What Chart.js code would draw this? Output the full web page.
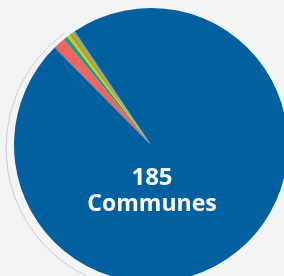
<!DOCTYPE html>
<html>
<head>
<meta charset="utf-8">
<script src="https://cdn.jsdelivr.net/npm/chart.js@4.4.1/dist/chart.umd.min.js"></script>
<style>
  html, body { margin: 0; padding: 0; background: #f4f4f4; overflow: hidden; width: 284px; height: 276px; }
  #wrap { position: absolute; left: 0; top: 0; width: 302px; height: 290px; }
</style>
</head>
<body>
<div id="wrap"><canvas id="communes-chart" width="302" height="290"></canvas></div>
<script>
// Communes pie chart

let categories = ['Groupe 1', 'Groupe 2', 'Groupe 3', 'Groupe 4', 'Groupe 5', 'Groupe 6'];
let communesData = [2.7, 0.9, 0.6, 0.8, 0.6, 179.5];
let sliceColors = ['#f0665e', '#14a37f', '#f5b335', '#8cb413', '#9a9a9a', '#025fa0'];
let centerLines = ['185', 'Communes'];

// faint ring on the left of the pie + centre text
const decorPlugin = {
    id: 'decor',
    beforeDatasetsDraw(chart) {
        let arc = chart.getDatasetMeta(0).data[0];
        let ctx = chart.ctx;
        ctx.save();
        ctx.beginPath();
        ctx.arc(arc.x - 3, arc.y + 3, arc.outerRadius + 5, Math.PI * 0.45, Math.PI * 1.3);
        ctx.strokeStyle = 'rgba(2, 95, 160, 0.22)';
        ctx.lineWidth = 1;
        ctx.stroke();
        ctx.restore();
    },
    afterDatasetsDraw(chart) {
        let arc = chart.getDatasetMeta(0).data[0];
        let ctx = chart.ctx;
        ctx.save();
        ctx.fillStyle = '#ffffff';
        ctx.textAlign = 'center';
        ctx.textBaseline = 'alphabetic';
        ctx.font = 'bold 24px "Open Sans", sans-serif';
        ctx.fillText(centerLines[0], arc.x + 1, arc.y + 40);
        ctx.font = 'bold 23px "Open Sans", sans-serif';
        ctx.fillText(centerLines[1], arc.x + 1, arc.y + 66);
        ctx.restore();
    }
};

let communesChart = new Chart(document.getElementById('communes-chart').getContext('2d'), {
    type: 'pie',
    data: {
        labels: categories,
        datasets: [{
            data: communesData,
            backgroundColor: sliceColors,
            borderWidth: 0
        }]
    },
    options: {
        responsive: false,
        animation: false,
        rotation: -44.7,
        radius: 137,
        layout: { padding: 0 },
        plugins: {
            legend: { display: false },
            tooltip: { enabled: false }
        }
    },
    plugins: [decorPlugin]
});
</script>
</body>
</html>
